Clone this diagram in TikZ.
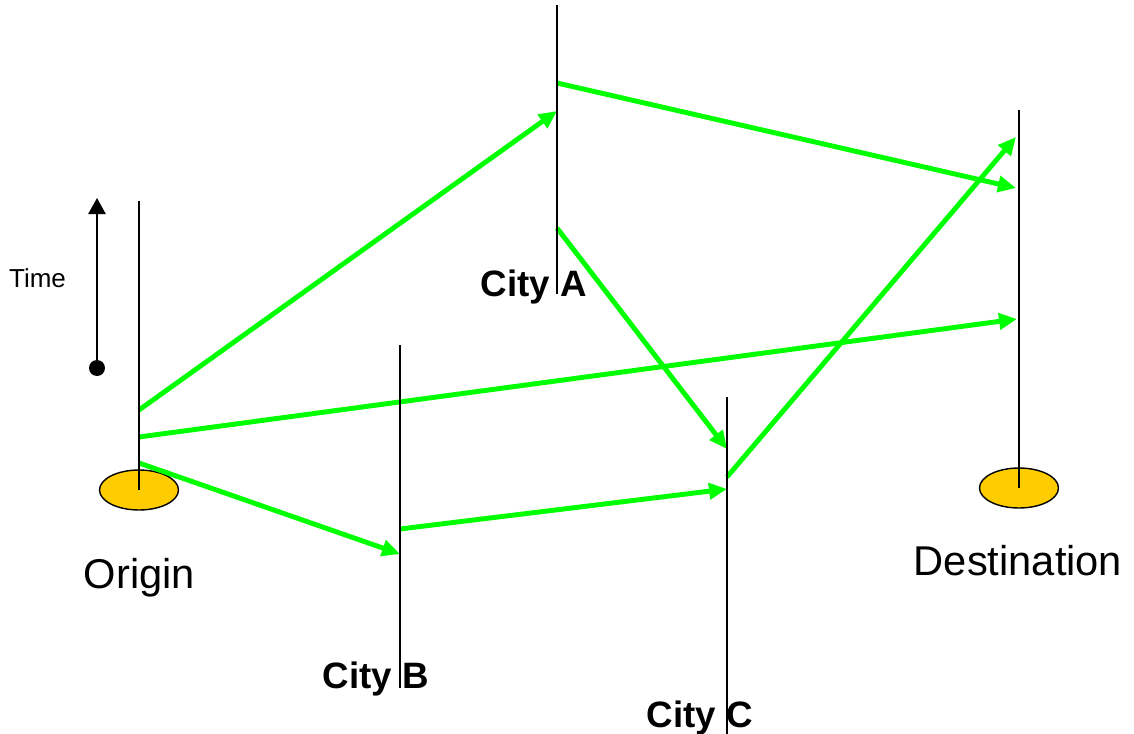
\documentclass[tikz,border=0pt]{standalone}
\usepackage{fontspec}
\setmainfont{Liberation Sans}
\usetikzlibrary{arrows.meta,shapes.geometric}
\definecolor{tripgreen}{HTML}{00FF00}
\definecolor{hubgold}{HTML}{FFCC00}
\begin{document}
\begin{tikzpicture}[x=0.02cm,y=-0.02cm,
    axis/.style={draw=black,line width=1pt},
    trip/.style={draw=tripgreen,line width=2.8pt,
                 -{Triangle[length=0.36cm,width=0.32cm]}},
    hub/.style={ellipse,draw=black,line width=0.8pt,fill=hubgold,
                minimum width=1.58cm,minimum height=0.8cm,inner sep=0pt},
    city/.style={font=\fontsize{20.9}{24}\selectfont\bfseries,anchor=base},
    place/.style={font=\fontsize{23.7}{28}\selectfont,anchor=base}]
  \useasboundingbox (0,0) rectangle (1134,734);
  % terminals
  \node[hub] (orig) at (139,490) {};
  \node[hub] (dest) at (1019,488) {};
  % ends of the time lines
  \coordinate (oTop) at (139,201);
  \coordinate (aTop) at (557,5);
  \coordinate (aBot) at (557,294);
  \coordinate (bTop) at (400,345);
  \coordinate (bBot) at (400,688);
  \coordinate (cTop) at (727,397);
  \coordinate (cBot) at (727,734);
  \coordinate (dTop) at (1019,110);
  % departure / arrival points
  \coordinate (o1) at (139,410);
  \coordinate (o2) at (139,437);
  \coordinate (o3) at (139,463);
  \coordinate (a1) at (557,83);
  \coordinate (a2) at (557,111);
  \coordinate (a3) at (557,228);
  \coordinate (b1) at (400,529);
  \coordinate (b2) at (400,554);
  \coordinate (c1) at (727,449);
  \coordinate (c2) at (727,477);
  \coordinate (c3) at (727,489);
  \coordinate (d1) at (1016,137);
  \coordinate (d2) at (1016,188);
  \coordinate (d3) at (1017,319);
  % trips
  \foreach \from/\to in {o1/a2, o2/d3, o3/b2, b1/c3, a1/d2, a3/c1, c2/d1}
    \draw[trip] (\from) -- (\to);
  % time lines
  \draw[axis] (oTop) -- (orig.center);
  \draw[axis] (aTop) -- (aBot);
  \draw[axis] (bTop) -- (bBot);
  \draw[axis] (cTop) -- (cBot);
  \draw[axis] (dTop) -- (dest.center);
  % time arrow
  \node[circle,fill=black,inner sep=0pt,minimum size=0.32cm] (t0) at (97,368) {};
  \coordinate (t1) at (97,198);
  \draw[line width=1.4pt,-{Triangle[length=0.32cm,width=0.34cm]}] (t0.center) -- (t1);
  \node[font=\fontsize{14.8}{17}\selectfont,anchor=base] (lblT) at (37.5,287) {Time};
  % labels
  \node[place] (lblO) at (139.5,588) {Origin};
  \node[place] (lblD) at (1018,575) {Destination};
  \node[city] (lblA) at (534,296) {City A};
  \node[city] (lblB) at (376,688) {City B};
  \node[city] (lblC) at (700,727) {City C};
\end{tikzpicture}
\end{document}
